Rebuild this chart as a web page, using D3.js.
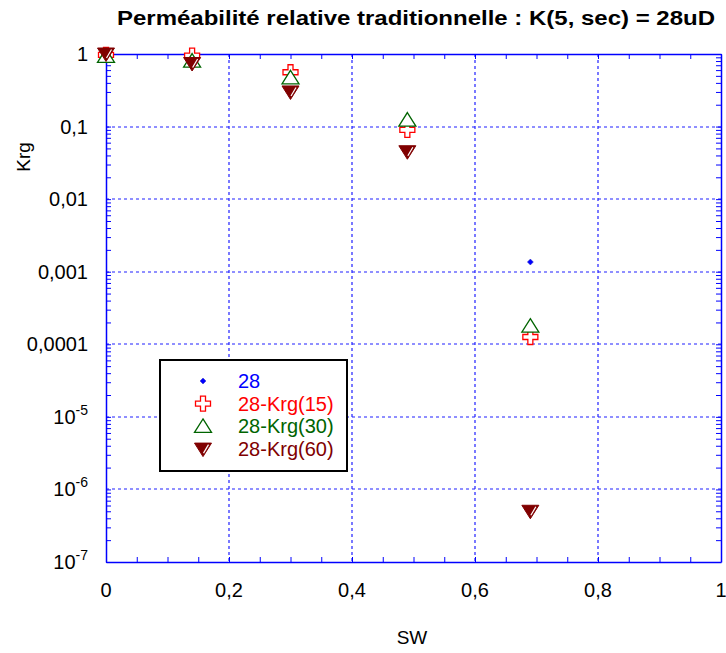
<!DOCTYPE html>
<html>
<head>
<meta charset="utf-8">
<script src="https://cdn.jsdelivr.net/npm/d3@7"></script>
<style>
  body { margin: 0; background: #fff; }
  text { font-family: Arial, "Liberation Sans", sans-serif; }
</style>
</head>
<body>
<div id="chart"></div>
<script>
// series values
let sw28 = [0, 0.69];
let krg28 = [1, 0.00136];

let sw15 = [0, 0.14, 0.30, 0.49, 0.69];
let krg15 = [0.97, 0.95, 0.56, 0.09, 0.000126];

let sw30 = [0, 0.14, 0.30, 0.49, 0.69];
let krg30 = [0.93, 0.8, 0.47, 0.123, 0.000178];

let sw60 = [0, 0.14, 0.30, 0.49, 0.69];
let krg60 = [1, 0.74, 0.30, 0.045, 5.0e-7];

let seriesNames = ["28", "28-Krg(15)", "28-Krg(30)", "28-Krg(60)"];
let xTicks = [0, 0.2, 0.4, 0.6, 0.8, 1];
let xTickLabels = ["0", "0,2", "0,4", "0,6", "0,8", "1"];
let yTicks = [1, 0.1, 0.01, 0.001, 0.0001, 1e-5, 1e-6, 1e-7];
let yTickLabels = ["1", "0,1", "0,01", "0,001", "0,0001", "10^-5", "10^-6", "10^-7"];

let svgWidth = 726;
let svgHeight = 653;
let plot = { left: 106, right: 721, top: 54, bottom: 562 };

let svg = d3.select("#chart")
  .append("svg")
  .attr("width", svgWidth)
  .attr("height", svgHeight);

let x = d3.scaleLinear().domain([0, 1]).range([plot.left, plot.right]);
let y = d3.scaleLog().domain([1e-7, 1]).range([plot.bottom, plot.top]);

let blue = "#0000ff";

// grid lines (dashed, soft blue like the original)
let grid = svg.append("g")
  .attr("stroke", "#2020ff")
  .attr("stroke-width", 1.2)
  .attr("stroke-dasharray", "3,3");

grid.selectAll("line.vx")
  .data(xTicks.slice(1, -1))
  .enter()
  .append("line")
  .attr("class", "vx")
  .attr("x1", d => Math.round(x(d)))
  .attr("x2", d => Math.round(x(d)))
  .attr("y1", plot.top)
  .attr("y2", plot.bottom);

grid.selectAll("line.hy")
  .data(yTicks.slice(1, -1))
  .enter()
  .append("line")
  .attr("class", "hy")
  .attr("x1", plot.left)
  .attr("x2", plot.right)
  .attr("y1", d => Math.round(y(d)))
  .attr("y2", d => Math.round(y(d)));

// minor ticks
let xMinor = d3.range(0, 1.0001, 0.05);
let yMinor = [];
for (let e = -7; e < 0; e++) {
  for (let m = 1; m < 10; m++) yMinor.push(m * Math.pow(10, e));
}
yMinor.push(1);

function styleAxis(g) {
  g.attr("color", blue);
  g.select(".domain").attr("stroke", blue).attr("stroke-width", 1.5);
  g.selectAll("line").attr("stroke", blue);
}

svg.append("g")
  .attr("transform", `translate(0, ${plot.bottom})`)
  .call(d3.axisBottom(x).tickValues(xMinor).tickSizeInner(-5).tickSizeOuter(0).tickFormat(""))
  .call(styleAxis);
svg.append("g")
  .attr("transform", `translate(0, ${plot.top})`)
  .call(d3.axisTop(x).tickValues(xMinor).tickSizeInner(-5).tickSizeOuter(0).tickFormat(""))
  .call(styleAxis);
svg.append("g")
  .attr("transform", `translate(${plot.left}, 0)`)
  .call(d3.axisLeft(y).tickValues(yMinor).tickSizeInner(-5).tickSizeOuter(0).tickFormat(""))
  .call(styleAxis);
svg.append("g")
  .attr("transform", `translate(${plot.right}, 0)`)
  .call(d3.axisRight(y).tickValues(yMinor).tickSizeInner(-5).tickSizeOuter(0).tickFormat(""))
  .call(styleAxis);

// tick labels
svg.append("g")
  .selectAll("text")
  .data(xTicks)
  .enter()
  .append("text")
  .attr("x", d => x(d))
  .attr("y", plot.bottom + 35)
  .attr("text-anchor", "middle")
  .attr("font-size", 20)
  .text((d, i) => xTickLabels[i]);

let yLab = svg.append("g")
  .selectAll("text")
  .data(yTicks)
  .enter()
  .append("text")
  .attr("x", plot.left - 18)
  .attr("y", d => y(d) + 7)
  .attr("text-anchor", "end")
  .attr("font-size", 20);

yLab.each(function(d, i) {
  let lab = yTickLabels[i];
  let t = d3.select(this);
  if (lab.indexOf("^") >= 0) {
    let parts = lab.split("^");
    t.append("tspan").text(parts[0]);
    t.append("tspan").attr("dy", -9).attr("font-size", 14).text(parts[1]);
  } else {
    t.text(lab);
  }
});

// axis titles
svg.append("text")
  .attr("x", 412)
  .attr("y", 644)
  .attr("text-anchor", "middle")
  .attr("font-size", 19)
  .text("SW");

svg.append("text")
  .attr("transform", "translate(30, 157) rotate(-90)")
  .attr("text-anchor", "middle")
  .attr("font-size", 19)
  .text("Krg");

svg.append("text")
  .attr("x", 117)
  .attr("y", 25)
  .attr("font-size", 20)
  .attr("font-weight", "bold")
  .attr("textLength", 598)
  .attr("lengthAdjust", "spacingAndGlyphs")
  .text("Perméabilité relative traditionnelle : K(5, sec) = 28uD");

// marker drawing
function drawMarker(g, kind) {
  if (kind === 0) {
    g.append("path").attr("d", "M0,-3L3,0L0,3L-3,0Z").attr("fill", blue).attr("stroke", "#3030c0").attr("stroke-width", 0.5);
  } else if (kind === 1) {
    g.append("path")
      .attr("d", "M-2.5,-7.5H2.5V-2.5H7.5V2.5H2.5V7.5H-2.5V2.5H-7.5V-2.5H-2.5Z")
      .attr("fill", "white").attr("stroke", "#ff0000").attr("stroke-width", 1.3);
  } else if (kind === 2) {
    g.append("path")
      .attr("d", "M0,-7.5L8.5,6L-8.5,6Z")
      .attr("fill", "white").attr("stroke", "#006400").attr("stroke-width", 1.3);
  } else {
    g.append("path")
      .attr("d", "M-8.5,-6L8.5,-6L0,7.5Z")
      .attr("fill", "#800000").attr("stroke", "#800000").attr("stroke-width", 1);
    g.append("path")
      .attr("d", "M5.5,-4.5L0.5,4")
      .attr("stroke", "white").attr("stroke-width", 1.2);
  }
}

let series = [
  { sw: sw28, krg: krg28 },
  { sw: sw15, krg: krg15 },
  { sw: sw30, krg: krg30 },
  { sw: sw60, krg: krg60 }
];

series.forEach((s, k) => {
  svg.append("g")
    .selectAll("g")
    .data(s.sw.map((v, i) => [v, s.krg[i]]))
    .enter()
    .append("g")
    .attr("transform", d => `translate(${x(d[0])}, ${y(d[1])})`)
    .each(function() { drawMarker(d3.select(this), k); });
});

// legend
let legend = svg.append("g");
legend.append("rect")
  .attr("x", 160).attr("y", 360)
  .attr("width", 187).attr("height", 111)
  .attr("fill", "white").attr("stroke", "black").attr("stroke-width", 2);

let legendColors = [blue, "#ff0000", "#006400", "#800000"];
seriesNames.forEach((name, k) => {
  let ly = 381 + k * 22.7;
  let mg = legend.append("g").attr("transform", `translate(203, ${ly})`);
  drawMarker(mg, k);
  legend.append("text")
    .attr("x", 238)
    .attr("y", ly + 7)
    .attr("font-size", 20)
    .attr("fill", legendColors[k])
    .text(name);
});
</script>
</body>
</html>
